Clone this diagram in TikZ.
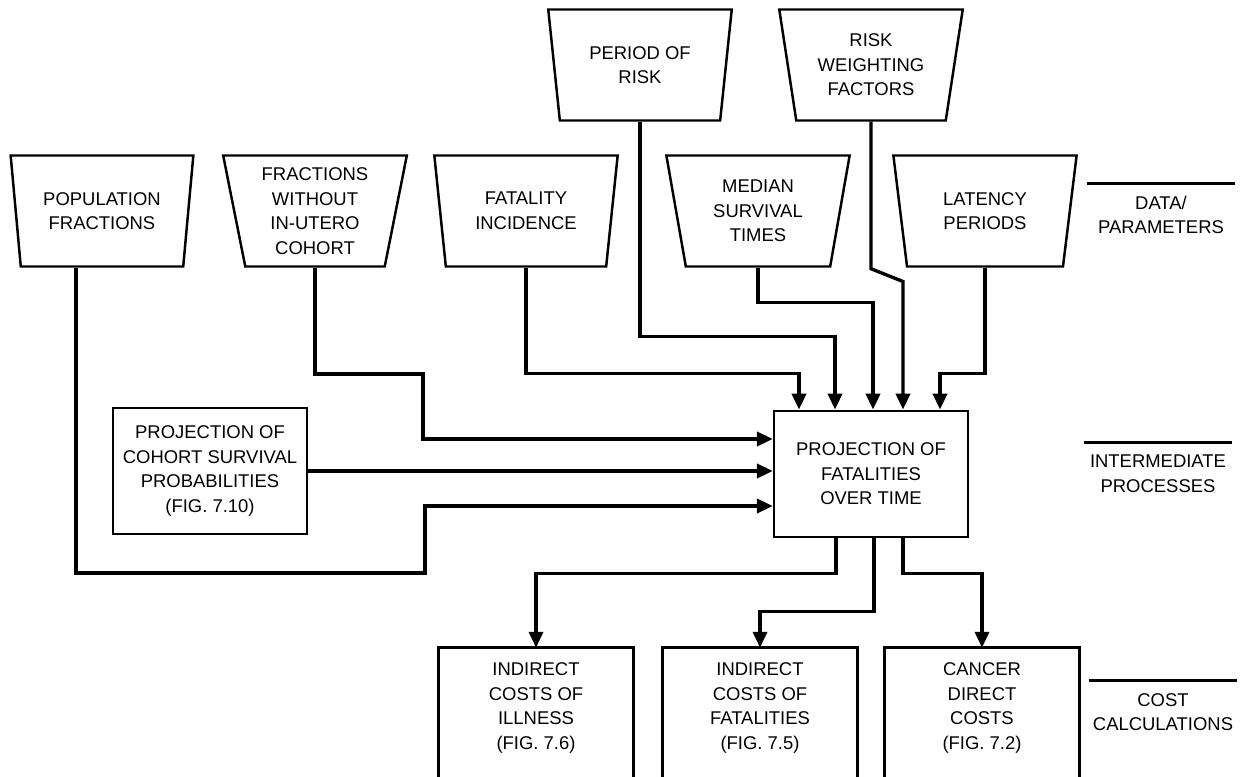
\documentclass[tikz,border=0pt]{standalone}
\usepackage{fontspec}
\setmainfont{Liberation Sans}
\usetikzlibrary{shapes.geometric,arrows.meta,calc}
\begin{document}
\begin{tikzpicture}[x=0.02cm, y=-0.02cm,
    every node/.style={font=\fontsize{10.5}{14}\selectfont, align=center},
    data/.style={draw, line width=1.4pt, trapezium, shape border rotate=180,
      trapezium left angle=79, trapezium right angle=79, trapezium stretches=true,
      minimum width=3.68cm, minimum height=2.22cm, inner sep=0pt},
    proc/.style={draw, line width=1.4pt, rectangle, minimum width=3.88cm,
      minimum height=2.53cm, inner sep=0pt},
    cost/.style={rectangle, minimum width=3.88cm, minimum height=2.4cm, inner sep=0pt},
    side/.style={minimum width=2.95cm, inner xsep=0pt, inner ysep=7pt},
    flow/.style={line width=1.9pt, -{Triangle[length=9pt,width=8pt]}},
    rule/.style={line width=1.4pt}]
    \useasboundingbox (0,0) rectangle (1247,777);

    \node[data] (pop) at (102,211) {POPULATION\\FRACTIONS};
    \node[data] (frac) at (315,211) {FRACTIONS\\WITHOUT\\IN-UTERO\\COHORT};
    \node[data] (fat) at (526,211) {FATALITY\\INCIDENCE};
    \node[data] (med) at (758,211) {MEDIAN\\SURVIVAL\\TIMES};
    \node[data] (lat) at (985,211) {LATENCY\\PERIODS};
    \node[data] (per) at (640,65) {PERIOD OF\\RISK};
    \node[data] (rwf) at (871,65) {RISK\\WEIGHTING\\FACTORS};
    \node[proc] (coh) at (210,471) {PROJECTION OF\\COHORT SURVIVAL\\PROBABILITIES\\(FIG. 7.10)};
    \node[proc] (pft) at (871,474) {PROJECTION OF\\FATALITIES\\OVER TIME};
    \node[cost] (ill) at (536,708) {INDIRECT\\COSTS OF\\ILLNESS\\(FIG. 7.6)};
    \node[cost] (fatc) at (760,708) {INDIRECT\\COSTS OF\\FATALITIES\\(FIG. 7.5)};
    \node[cost] (can) at (982,708) {CANCER\\DIRECT\\COSTS\\(FIG. 7.2)};
    \foreach \b in {ill,fatc,can}
        \draw[rule] ($(\b.south west)+(0,30)$) -- (\b.north west) -- (\b.north east) -- ($(\b.south east)+(0,30)$);

    \node[side] (s1) at (1161,215) {DATA/\\PARAMETERS};
    \node[side] (s2) at (1158,474) {INTERMEDIATE\\PROCESSES};
    \node[side] (s3) at (1163,712) {COST\\CALCULATIONS};
    \foreach \s in {s1,s2,s3}
        \draw[rule] (\s.north west) -- (\s.north east);

    \coordinate (i1) at ($(pft.north)+(-72,0)$);
    \coordinate (i2) at ($(pft.north)+(-36,0)$);
    \coordinate (i3) at ($(pft.north)+(2,0)$);
    \coordinate (i4) at ($(pft.north)+(32,0)$);
    \coordinate (i5) at ($(pft.north)+(69,0)$);

    \draw[flow] ($(pop.south)+(-26,0)$) |- (425,573) |- ($(pft.west)+(0,32)$);
    \draw[flow] (frac.south) |- (423,374) |- ($(pft.west)+(0,-35)$);
    \draw[flow] (coh.east) -- (coh.east -| pft.west);
    \draw[flow] (fat.south) |- ($(i1)+(0,-36)$) -- (i1);
    \draw[flow] (per.south) |- ($(i2)+(0,-73)$) -- (i2);
    \draw[flow] (med.south) |- ($(i3)+(0,-107)$) -- (i3);
    \draw[flow] (rwf.south) -- ++(0,147) -- ($(i4)+(0,-128)$) -- (i4);
    \draw[flow] (lat.south) |- ($(i5)+(0,-36)$) -- (i5);
    \draw[flow] ($(pft.south)+(-35,0)$) |- ($(ill.north)+(0,-74)$) -- (ill.north);
    \draw[flow] ($(pft.south)+(3,0)$) |- ($(fatc.north)+(0,-36)$) -- (fatc.north);
    \draw[flow] ($(pft.south)+(32,0)$) |- ($(can.north)+(0,-74)$) -- (can.north);
\end{tikzpicture}
\end{document}
